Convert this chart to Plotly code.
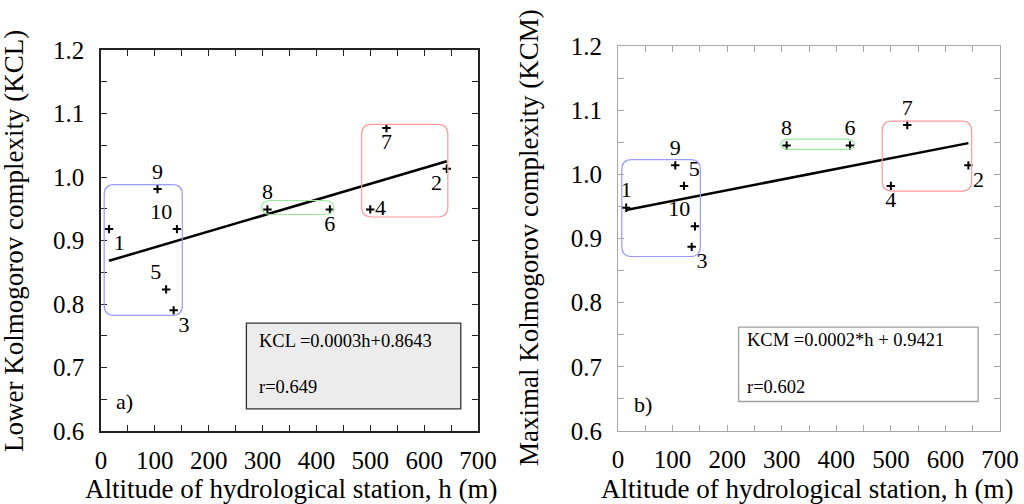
import plotly.graph_objects as go

# station altitude (m) and station number
altitude = [15, 642, 135, 500, 121, 425, 530, 309, 105, 141]
station = ["1", "2", "3", "4", "5", "6", "7", "8", "9", "10"]

# a) lower Kolmogorov complexity
kcl = [0.918, 1.013, 0.790, 0.949, 0.823, 0.949, 1.077, 0.949, 0.981, 0.918]
kcl_fit = (0.00025, 0.8643)
kcl_text = ["KCL =0.0003h+0.8643", "r=0.649"]

# b) maximal Kolmogorov complexity
kcm = [0.948, 1.014, 0.887, 0.982, 0.982, 1.045, 1.077, 1.045, 1.014, 0.919]
kcm_fit = (0.000166, 0.9421)
kcm_text = ["KCM =0.0002*h + 0.9421", "r=0.602"]

# group boxes [x0, x1, y0, y1]
groups_a = {"blue": [6, 151, 0.782, 0.988], "green": [298, 432, 0.941, 0.963], "red": [484, 644, 0.937, 1.083]}
groups_b = {"blue": [7, 151, 0.872, 1.023], "green": [298, 434, 1.039, 1.055], "red": [484, 648, 0.974, 1.083]}
group_col = {"blue": "#9b9bff", "green": "#9be89b", "red": "#ff9b9b"}

lab_pos_a = ["bottom right", "bottom left", "bottom right", "middle right", "top left",
             "bottom center", "bottom center", "top center", "top center", "top left"]
lab_pos_b = ["top center", "bottom right", "bottom right", "bottom center", "top right",
             "top center", "top center", "top center", "top center", "top left"]

x_ticks = list(range(0, 701, 50))
y_ticks = [round(0.6 + 0.05 * i, 2) for i in range(13)]

FONT = "Liberation Serif, Times New Roman, serif"


def rounded(x0, x1, y0, y1, rx, ry):
    rx = min(rx, (x1 - x0) / 2)
    ry = min(ry, (y1 - y0) / 2)
    return (f"M {x0+rx},{y0} L {x1-rx},{y0} Q {x1},{y0} {x1},{y0+ry} "
            f"L {x1},{y1-ry} Q {x1},{y1} {x1-rx},{y1} L {x0+rx},{y1} "
            f"Q {x0},{y1} {x0},{y1-ry} L {x0},{y0+ry} Q {x0},{y0} {x0+rx},{y0} Z")


fig = go.Figure()

panels = [
    dict(xr="x", yr="y", vals=kcl, fit=kcl_fit, txt=kcl_text, groups=groups_a, lpos=lab_pos_a,
         tag="a)", tag_xy=(43, 0.646), box=(270, 668, 0.635, 0.770), text_x=290,
         boxfill="#ececec", boxline="#333333"),
    dict(xr="x2", yr="y2", vals=kcm, fit=kcm_fit, txt=kcm_text, groups=groups_b, lpos=lab_pos_b,
         tag="b)", tag_xy=(46, 0.641), box=(221, 660, 0.646, 0.762), text_x=233,
         boxfill="white", boxline="#a0a0a0"),
]

for p in panels:
    xr, yr = p["xr"], p["yr"]
    xs = [min(altitude), max(altitude)]
    fig.add_trace(go.Scatter(x=xs, y=[p["fit"][0] * v + p["fit"][1] for v in xs], mode="lines",
                             line=dict(color="black", width=2.5), xaxis=xr, yaxis=yr,
                             showlegend=False, hoverinfo="skip"))
    fig.add_trace(go.Scatter(x=altitude, y=p["vals"], mode="markers+text", text=station,
                             textposition=p["lpos"], textfont=dict(family=FONT, size=22, color="black"),
                             marker=dict(symbol="cross-thin", size=6, line=dict(color="black", width=2)),
                             xaxis=xr, yaxis=yr, showlegend=False))
    for name, (x0, x1, y0, y1) in p["groups"].items():
        fig.add_shape(type="path", path=rounded(x0, x1, y0, y1, 18, 0.016), xref=xr, yref=yr,
                      line=dict(color=group_col[name], width=1.2))
    bx0, bx1, by0, by1 = p["box"]
    fig.add_shape(type="rect", xref=xr, yref=yr, x0=bx0, x1=bx1, y0=by0, y1=by1,
                  fillcolor=p["boxfill"], line=dict(color=p["boxline"], width=1.3), layer="below")
    fig.add_annotation(x=p["text_x"], y=0.742, xref=xr, yref=yr, text=p["txt"][0], showarrow=False,
                       xanchor="left", font=dict(family=FONT, size=18.5, color="black"))
    fig.add_annotation(x=p["text_x"], y=0.669, xref=xr, yref=yr, text=p["txt"][1], showarrow=False,
                       xanchor="left", font=dict(family=FONT, size=18.5, color="black"))
    fig.add_annotation(x=p["tag_xy"][0], y=p["tag_xy"][1], xref=xr, yref=yr, text=p["tag"],
                       showarrow=False, font=dict(family=FONT, size=22, color="black"))

# axis titles
title_font = dict(family=FONT, size=27, color="black")
titles = [
    (291, 489, 0, "Altitude of hydrological station, h (m)"),
    (807, 489, 0, "Altitude of hydrological station, h (m)"),
    (14, 241, -90, "Lower Kolmogorov complexity (KCL)"),
    (529, 238, -90, "Maximal Kolmogorov complexity (KCM)"),
]
for tx, ty, ang, t in titles:
    fig.add_annotation(x=tx / 1024, y=1 - ty / 504, xref="paper", yref="paper", showarrow=False,
                       xanchor="center", yanchor="middle", textangle=ang, text=t, font=title_font)


def xaxis(domain, anchor, col, lw):
    return dict(domain=domain, range=[0, 700], anchor=anchor, tickmode="array", tickvals=x_ticks,
                ticktext=[str(v) if v % 100 == 0 else "" for v in x_ticks], automargin=False,
                showgrid=False, zeroline=False, ticks="inside", ticklen=6, mirror="ticks",
                showline=True, linecolor=col, tickcolor=col, linewidth=lw, ticklabelstandoff=6,
                tickfont=dict(family=FONT, size=25, color="black"))


def yaxis(domain, anchor, col, lw):
    return dict(domain=domain, range=[0.6, 1.2], anchor=anchor, tickmode="array", tickvals=y_ticks,
                ticktext=[f"{v:.1f}" if round(v * 100) % 10 == 0 else "" for v in y_ticks],
                automargin=False,
                showgrid=False, zeroline=False, ticks="inside", ticklen=6, mirror="ticks",
                showline=True, linecolor=col, tickcolor=col, linewidth=lw, ticklabelstandoff=10,
                tickfont=dict(family=FONT, size=25, color="black"))


fig.update_layout(
    width=1024, height=504,
    margin=dict(l=0, r=0, t=0, b=0, autoexpand=False),
    paper_bgcolor="white", plot_bgcolor="white",
    xaxis=xaxis([0.0986, 0.4668], "y", "#222222", 1.5),
    yaxis=yaxis([0.1448, 0.9008], "x", "#222222", 1.5),
    xaxis2=xaxis([0.6035, 0.9766], "y2", "#a8a8a8", 1.2),
    yaxis2=yaxis([0.1448, 0.9087], "x2", "#a8a8a8", 1.2),
)

fig.write_html("out.html", config={"displayModeBar": False},
               post_script="document.body.style.margin='0';")
